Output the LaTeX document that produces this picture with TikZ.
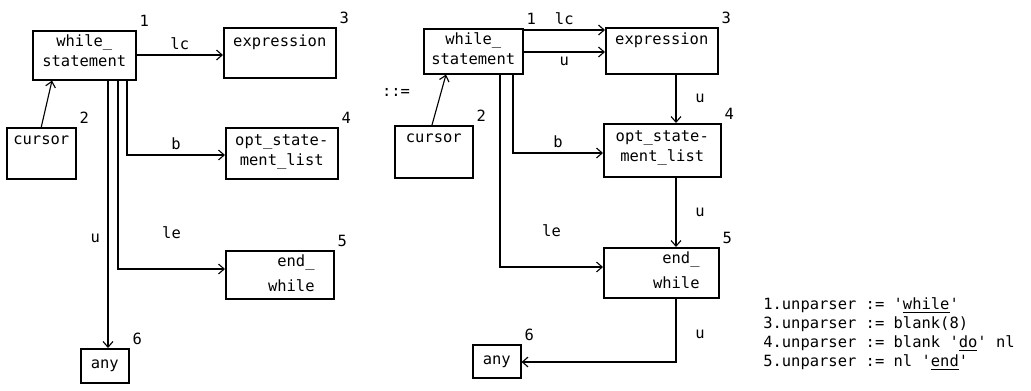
\documentclass[tikz,border=0pt]{standalone}
\usepackage{fontspec}
\setmainfont{DejaVu Sans Mono}
\usetikzlibrary{arrows.meta,positioning}
\newcommand{\bx}[6]{\node[box,minimum width=#4*0.025cm,minimum height=#5*0.025cm] (#1) at (#2,#3) {};\node[num] (#1n) at (#1.north east) {#6};}
\newcommand{\kw}[1]{\textquotesingle\underline{#1}\textquotesingle}
\tikzset{box/.style={draw,line width=1.1pt,anchor=north west,inner sep=0pt},
  txt/.style={align=center,inner sep=0pt,font=\fontsize{11}{14.2}\selectfont},
  num/.style={anchor=south west,inner sep=1pt,xshift=1pt,yshift=1pt,font=\fontsize{11}{13}\selectfont},
  lnk/.style={line width=0.8pt,-{Straight Barb[length=4pt,width=7pt]}},
  every node/.append style={font=\fontsize{11}{13}\selectfont}}

\begin{document}
\begin{tikzpicture}[x=0.025cm,y=-0.025cm]
\useasboundingbox (0,0) rectangle (1031,390);
\bx{w1}{32}{30}{103}{49}{1}\bx{e1}{223}{27}{112}{50}{3}\bx{c1}{6}{127}{69}{51}{2}
\bx{o1}{225}{127}{112}{51}{4}\bx{n1}{225}{250}{108}{48}{5}\bx{a1}{80}{348}{48}{34}{6}
\node[txt,below=3pt of w1.north] (w1t) {while\_\\statement};
\node[txt,below=5pt of e1.north] (e1t) {expression};
\node[txt,below=6pt of c1.north] (c1t) {cursor};
\node[txt,below=5pt of o1.north] (o1t) {opt\_state-\\ment\_list};
\node[txt,align=right,below left=3pt and 14pt of n1.north east,font=\fontsize{11}{18}\selectfont] (n1t) {end\_\\while};
\node[txt] (a1t) at (a1) {any};
\draw[lnk] (w1.east |- 0,55) -- node[above]{lc} (e1.west |- 0,55);
\draw[lnk] (c1.north) -- (w1.south -| 52,0);
\draw[lnk] (w1.south -| 127,0) |- node[pos=0.75,above]{b} (o1.west |- 0,155);
\draw[lnk] (w1.south -| 118,0) |- node[pos=0.75,above=18pt]{le} (n1.west |- 0,269);
\draw[lnk] (w1.south -| 108,0) -- node[pos=0.59,left=2pt]{u} (a1.north -| 108,0);
\node (def) at (396,92) {::=};
\bx{w2}{423}{28}{99}{45}{1}\bx{e2}{605}{27}{112}{46}{3}\bx{c2}{394}{125}{78}{52}{2}
\bx{o2}{603}{123}{117}{53}{4}\bx{n2}{603}{247}{115}{50}{5}\bx{a2}{472}{344}{48}{33}{6}
\node[txt,below=3pt of w2.north] (w2t) {while\_\\statement};
\node[txt,below=4pt of e2.north] (e2t) {expression};
\node[txt,below=6pt of c2.north] (c2t) {cursor};
\node[txt,below=5pt of o2.north] (o2t) {opt\_state-\\ment\_list};
\node[txt,align=right,below left=3pt and 14pt of n2.north east,font=\fontsize{11}{18}\selectfont] (n2t) {end\_\\while};
\node[txt] (a2t) at (a2) {any};
\draw[lnk] (w2.east |- 0,30) -- node[above]{lc} (e2.west |- 0,30);
\draw[lnk] (w2.east |- 0,52) -- node[below]{u} (e2.west |- 0,52);
\draw[lnk] (c2.north -| 432,0) -- (w2.south -| 446,0);
\draw[lnk] (e2.south -| 676,0) -- node[right=10pt]{u} (o2.north -| 676,0);
\draw[lnk] (w2.south -| 513,0) |- node[pos=0.75,above]{b} (o2.west |- 0,153);
\draw[lnk] (w2.south -| 500,0) |- node[pos=0.75,above=18pt]{le} (n2.west |- 0,267);
\draw[lnk] (o2.south -| 676,0) -- node[right=10pt]{u} (n2.north -| 676,0);
\draw[lnk] (n2.south -| 676,0) |- node[pos=0.28,right=10pt]{u} (a2.east |- 0,362);
\node[anchor=west,align=left,inner sep=0pt,font=\fontsize{11}{13.5}\selectfont] (rules) at (763,334)
  {1.unparser := \kw{while}\\3.unparser := blank(8)\\4.unparser := blank \kw{do} nl\\5.unparser := nl \kw{end}};
\end{tikzpicture}
\end{document}
